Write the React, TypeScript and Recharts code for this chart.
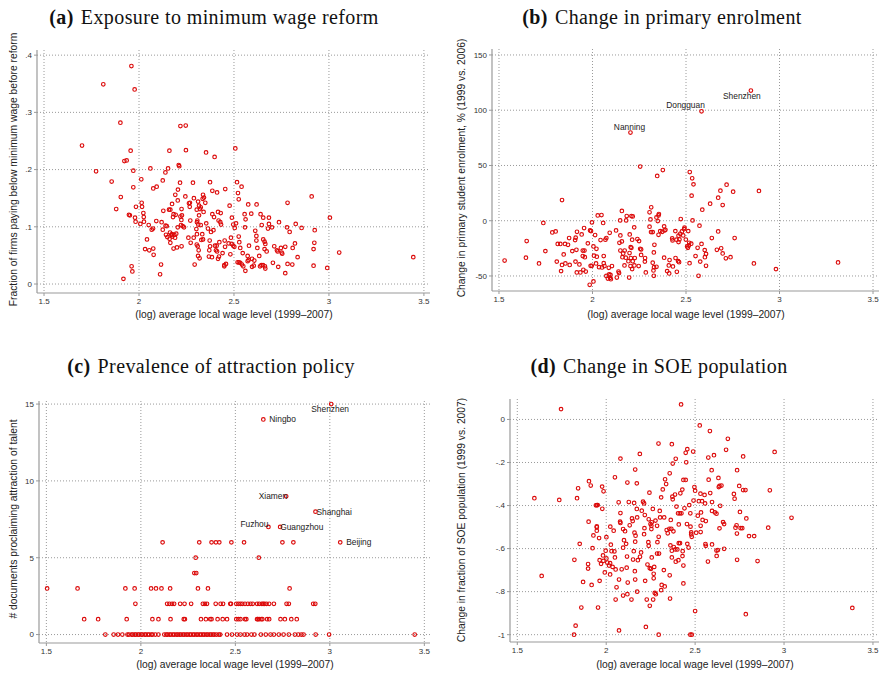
import React from 'react';
import { ScatterChart, Scatter, XAxis, YAxis, CartesianGrid } from 'recharts';

const RED = '#dc0a0a';
const GRID = '#9a9a9a';
const AXIS = '#9a9a9a';
const SANS = '"Liberation Sans", Arial, sans-serif';
const SERIF = '"Liberation Serif", "Times New Roman", serif';

const wageTicks = [1.5, 2, 2.5, 3, 3.5];
const exposureTicks = [0, 0.1, 0.2, 0.3, 0.4];
const enrolTicks = [-50, 0, 50, 100, 150];
const docTicks = [0, 5, 10, 15];
const soeTicks = [-1, -0.8, -0.6, -0.4, -0.2, 0];

// (a) log wage vs. share of firms below the new minimum wage
const exposurePoints: [number, number][] = [
  [1.70,0.242],[1.812,0.349],[1.96,0.381],[1.977,0.340],[1.902,0.282],[1.774,0.197],[1.856,0.179],[1.88,0.131],[1.904,0.152],[1.956,0.233],[1.923,0.215],[1.935,0.216],[1.97,0.198],[1.97,0.169],[1.947,0.121],[1.952,0.120],[1.984,0.135],[1.979,0.116],[1.982,0.109],[1.961,0.031],[1.965,0.022],[1.918,0.009],
  [2.012,0.183],[2.014,0.142],[2.016,0.135],[2.023,0.124],[2.025,0.117],[2.007,0.105],[2.026,0.109],[2.06,0.202],[2.075,0.167],[2.093,0.170],[2.051,0.103],[2.067,0.095],[2.074,0.097],[2.091,0.110],[2.042,0.078],[2.032,0.061],[2.054,0.059],[2.075,0.062],[2.077,0.051],[2.116,0.034],[2.111,0.017],
  [2.125,0.181],[2.139,0.195],[2.153,0.202],[2.16,0.233],[2.191,0.156],[2.128,0.128],[2.119,0.108],[2.125,0.095],[2.14,0.102],[2.146,0.101],[2.158,0.130],[2.165,0.130],[2.174,0.140],[2.182,0.122],[2.193,0.121],[2.179,0.117],[2.142,0.086],[2.149,0.082],[2.161,0.079],[2.163,0.090],[2.17,0.086],[2.174,0.087],[2.175,0.083],[2.186,0.086],[2.19,0.081],[2.165,0.072],[2.182,0.062],[2.2,0.064],[2.224,0.066],
  [2.204,0.146],[2.205,0.165],[2.209,0.208],[2.212,0.206],[2.216,0.177],[2.218,0.276],[2.246,0.277],[2.247,0.234],[2.244,0.153],[2.224,0.131],[2.218,0.118],[2.226,0.120],[2.223,0.112],[2.204,0.099],[2.23,0.101],[2.237,0.099],[2.221,0.103],[2.196,0.088],
  [2.263,0.141],[2.267,0.135],[2.268,0.142],[2.284,0.177],[2.289,0.15],[2.27,0.111],[2.26,0.081],[2.288,0.081],[2.272,0.072],[2.293,0.034],[2.304,0.130],[2.311,0.144],[2.316,0.137],[2.321,0.131],[2.325,0.134],[2.316,0.120],[2.307,0.111],[2.305,0.108],[2.312,0.104],[2.302,0.096],[2.305,0.087],[2.337,0.156],[2.342,0.151],[2.335,0.149],[2.349,0.142],[2.34,0.126],[2.325,0.103],[2.333,0.087],[2.337,0.078],[2.328,0.077],[2.304,0.069],[2.309,0.066],[2.314,0.059],[2.311,0.049],[2.319,0.045],
  [2.353,0.230],[2.374,0.178],[2.386,0.163],[2.398,0.222],[2.411,0.160],[2.354,0.106],[2.363,0.097],[2.379,0.091],[2.392,0.094],[2.386,0.122],[2.395,0.117],[2.372,0.076],[2.374,0.066],[2.37,0.059],[2.384,0.047],[2.368,0.048],[2.4,0.067],[2.409,0.067],[2.405,0.059],[2.411,0.057],[2.416,0.044],[2.421,0.048],[2.416,0.126],[2.43,0.124],[2.419,0.111],[2.428,0.108],[2.432,0.104],[2.423,0.073],[2.44,0.054],[2.454,0.166],[2.451,0.076],[2.453,0.065],[2.449,0.033],[2.458,0.035],[2.449,0.031],
  [2.477,0.137],[2.489,0.116],[2.496,0.104],[2.472,0.071],[2.484,0.081],[2.488,0.070],[2.496,0.067],[2.502,0.065],[2.481,0.052],[2.507,0.237],[2.516,0.178],[2.521,0.159],[2.525,0.148],[2.54,0.170],[2.511,0.106],[2.504,0.098],[2.525,0.083],[2.528,0.073],[2.533,0.063],[2.519,0.038],[2.526,0.038],[2.533,0.037],[2.542,0.034],[2.549,0.031],[2.56,0.023],[2.546,0.054],[2.556,0.122],[2.561,0.113],[2.558,0.099],[2.575,0.139],[2.591,0.123],[2.579,0.067],[2.572,0.049],[2.577,0.042],[2.572,0.040],[2.595,0.044],[2.607,0.041],[2.595,0.030],[2.604,0.032],
  [2.612,0.093],[2.618,0.084],[2.619,0.139],[2.618,0.076],[2.623,0.063],[2.633,0.049],[2.64,0.122],[2.646,0.103],[2.654,0.116],[2.637,0.031],[2.644,0.033],[2.653,0.033],[2.663,0.031],[2.665,0.027],[2.654,0.078],[2.661,0.074],[2.665,0.070],[2.661,0.061],[2.672,0.057],[2.684,0.116],[2.684,0.105],[2.679,0.097],[2.70,0.099],[2.712,0.066],[2.705,0.037],[2.737,0.108],[2.733,0.030],[2.726,0.059],[2.73,0.057],[2.747,0.063],[2.751,0.055],[2.754,0.053],[2.77,0.065],[2.77,0.019],[2.779,0.099],[2.782,0.142],[2.793,0.091],[2.782,0.035],[2.809,0.063],[2.821,0.071],[2.825,0.105],[2.807,0.034],[2.835,0.047],[2.856,0.098],[2.909,0.153],[2.925,0.094],[2.923,0.072],[2.919,0.061],[2.919,0.032],[2.991,0.028],[3.005,0.116],[3.054,0.055],[3.444,0.047],
];

// (b) log wage vs. % change in primary enrolment
const enrolPoints: [number, number][] = [
  [1.53,-36],[1.648,-18.4],[1.644,-33.5],[1.714,-38.7],[1.737,-2],[1.748,-27.5],[1.837,18.7],[1.785,-10.6],[1.803,-9.7],[1.814,-21],[1.828,-21],[1.809,-37],[1.832,-45.6],[1.837,-40],[1.855,-38.7],[1.846,-30.5],[1.853,-21],[1.869,-21.8],[1.875,-15.7],[1.878,-40],[1.892,-27.5],[1.907,-17.5],[1.91,-15.4],[1.917,-10],[1.914,-26.3],[1.909,-37],[1.916,-46.8],[1.93,-39.6],[1.935,-46.8],[1.942,-12.4],[1.955,-6.6],[1.948,-27],[1.957,-27],[1.948,-32],[1.959,-33],[1.951,-44.4],[1.964,-46],[1.975,-20.5],[1.987,-8.8],[1.992,-9.4],[1.997,-1.5],[1.99,-40.8],[1.996,-40.8],[2.005,-23.3],[2.008,-31.7],[2.014,-13],[2.021,-25.4],[2.023,-32.6],[2.019,-38.7],[2.005,-55],[1.985,-58],
  [2.028,4.8],[2.048,5.1],[2.057,-2],[2.043,-17.5],[2.035,-42],[2.051,-42.3],[2.06,-32],[2.06,-38.4],[2.064,-41],[2.069,-17.2],[2.074,-15.7],[2.074,-50],[2.082,-52.3],[2.087,-42.6],[2.089,-48.6],[2.094,-51.7],[2.098,-52.9],[2.096,-49],[2.104,-41],[2.092,-10.9],[2.126,-8.8],[2.13,-51.4],[2.139,-46],[2.142,-47.4],[2.148,0.3],[2.157,8.8],[2.149,-13.3],[2.157,-18.7],[2.144,-20],[2.149,-27],[2.16,-33],[2.172,-27],[2.164,-29.6],[2.171,-40.5],[2.178,-33.5],[2.183,4.2],[2.18,0.3],[2.192,-36.6],[2.196,-51.4],[2.198,-29.3],[2.205,-33.8],[2.208,4.2],[2.215,3.9],[2.199,-12.4],[2.204,-24],[2.208,-24.5],[2.212,-17.2],[2.203,-41],[2.212,-43.8],[2.215,-36.6],[2.223,-6],[2.226,-33.8],[2.224,-40.5],[2.24,-16.6],[2.249,-18.4],[2.255,-25.4],[2.26,-26],[2.247,-41],[2.26,-31],[2.281,-33.8],[2.28,-37],[2.285,-46.8],[2.255,49],
  [2.305,7.6],[2.314,12.1],[2.31,1.2],[2.305,-5.4],[2.313,-10.3],[2.322,-10.3],[2.331,-21.8],[2.328,-28.7],[2.322,-38],[2.329,-42],[2.326,-45],[2.328,-49.8],[2.342,-41.7],[2.346,40.5],[2.342,3],[2.349,-0.3],[2.353,4.8],[2.355,6],[2.353,-12.7],[2.362,-9.4],[2.376,45.9],[2.373,-10],[2.385,-8.8],[2.39,-8.2],[2.383,-5.1],[2.383,-33.5],[2.412,-35.6],[2.408,-40.5],[2.399,-45.6],[2.41,-47.7],[2.426,-16],[2.428,-17.8],[2.43,-41.4],[2.443,-9.4],[2.444,-33.8],[2.451,-46.2],[2.449,-17.2],[2.46,-13.6],[2.465,-16.9],[2.46,-19.3],[2.458,-36.6],[2.463,-37.5],[2.472,1.5],[2.469,-11.8],[2.478,-9.7],[2.485,-13.3],[2.49,-7.6],[2.492,-6.3],[2.499,-17],
  [2.51,-24.5],[2.506,-23.3],[2.515,-22.4],[2.517,-20],[2.512,-9.4],[2.52,44],[2.533,38.4],[2.54,32.9],[2.53,22.7],[2.535,0.3],[2.519,-38.4],[2.528,-20.8],[2.551,-32],[2.562,-24.5],[2.572,-4.5],[2.583,-21],[2.587,10],[2.576,-37],[2.567,-49.8],[2.6,-26.6],[2.601,-33],[2.607,-30],[2.607,-40.8],[2.629,15.4],[2.638,-15.7],[2.665,-26.3],[2.672,-9.7],[2.672,20.8],[2.684,27.2],[2.688,-25],[2.696,-29.6],[2.696,14.2],[2.717,32.6],[2.713,-34],[2.738,-33],[2.752,26.3],[2.76,-15.7],[2.863,-38.7],[2.89,26.9],[2.981,-43.8],[3.313,-37.8],
];
const enrolCities: [string, number, number][] = [
  ['Nanning', 2.203, 79.8],
  ['Dongguan', 2.583, 99],
  ['Shenzhen', 2.847, 117.8],
];

// (c) log wage vs. number of talent-attraction documents
const docPoints: [number, number][] = [
  [2.115,6],[2.309,6],[2.374,6],[2.397,6],[2.415,6],[2.479,6],[2.546,6],[2.749,6],[2.807,6],
  [2.29,5],[2.624,5],
  [2.283,4],[2.293,4],
  [1.504,3],[1.665,3],[1.918,3],[1.967,3],[2.054,3],[2.08,3],[2.109,3],[2.155,3],[2.302,3],[2.355,3],[2.787,3],
  [1.971,2],[2.139,2],[2.151,2],[2.165,2],[2.176,2],[2.208,2],[2.231,2],[2.266,2],[2.328,2],[2.339,2],[2.35,2],[2.396,2],[2.422,2],[2.435,2],[2.473,2],[2.477,2],[2.505,2],[2.516,2],[2.527,2],[2.537,2],[2.551,2],[2.566,2],[2.58,2],[2.592,2],[2.615,2],[2.626,2],[2.64,2],[2.647,2],[2.654,2],[2.665,2],[2.679,2],[2.704,2],[2.771,2],[2.783,2],[2.912,2],[2.923,2],
  [1.7,1],[1.774,1],[1.925,1],[2.061,1],[2.093,1],[2.157,1],[2.227,1],[2.233,1],[2.318,1],[2.344,1],[2.367,1],[2.374,1],[2.406,1],[2.433,1],[2.456,1],[2.505,1],[2.516,1],[2.527,1],[2.551,1],[2.558,1],[2.615,1],[2.619,1],[2.626,1],[2.637,1],[2.643,1],[2.668,1],[2.679,1],[2.739,1],[2.762,1],[2.796,1],[2.825,1],
  [1.812,0],[1.856,0],[1.879,0],[1.902,0],[1.929,0],[1.937,0],[1.951,0],[1.957,0],[1.968,0],[1.974,0],[1.985,0],[1.991,0],[2.003,0],[2.008,0],[2.021,0],[2.026,0],[2.037,0],[2.044,0],[2.056,0],[2.062,0],[2.076,0],[2.093,0],[2.124,0],[2.135,0],[2.141,0],[2.152,0],[2.159,0],[2.17,0],[2.177,0],[2.188,0],[2.195,0],[2.205,0],[2.212,0],[2.223,0],[2.23,0],[2.241,0],[2.248,0],[2.259,0],[2.265,0],[2.276,0],[2.283,0],[2.294,0],[2.301,0],[2.312,0],[2.319,0],[2.329,0],[2.336,0],[2.347,0],[2.354,0],[2.365,0],[2.372,0],[2.382,0],[2.389,0],[2.4,0],[2.413,0],[2.42,0],[2.456,0],[2.482,0],[2.509,0],[2.527,0],[2.548,0],[2.562,0],[2.585,0],[2.601,0],[2.635,0],[2.661,0],[2.686,0],[2.704,0],[2.73,0],[2.755,0],[2.783,0],[2.815,0],[2.833,0],[2.849,0],[2.861,0],[2.925,0],[2.996,0],[3.449,0],
];
const docCities: [string, number, number][] = [
  ['Shenzhen', 3.007, 15],
  ['Ningbo', 2.648, 14],
  ['Xiamen', 2.769, 9],
  ['Shanghai', 2.924, 8],
  ['Fuzhou', 2.675, 7],
  ['Guangzhou', 2.737, 7],
  ['Beijing', 3.055, 6],
];

// (d) log wage vs. change in SOE share
const soePoints: [number, number][] = [
  [1.596,-0.366],[1.637,-0.727],[1.746,0.048],[1.736,-0.374],[1.821,-0.652],[1.828,-0.958],[1.819,-1.0],[1.836,-0.366],[1.842,-0.32],[1.851,-0.578],[1.86,-0.874],[1.87,-0.755],[1.898,-0.672],[1.898,-0.693],[1.901,-0.475],[1.903,-0.287],[1.913,-0.307],[1.918,-0.769],[1.923,-0.598],[1.928,-0.539],[1.942,-0.399],[1.948,-0.398],[1.952,-0.398],[1.947,-0.501],[1.947,-0.497],[1.947,-0.517],[1.954,-0.874],[1.96,-0.551],[1.963,-0.75],[1.963,-0.654],[1.971,-0.671],[1.977,-0.312],[1.978,-0.415],[1.985,-0.334],[1.982,-0.632],[1.984,-0.657],[1.992,-0.711],[1.997,-0.61],
  [2.001,-0.547],[2.001,-0.646],[2.006,-0.665],[2.016,-0.679],[2.022,-0.668],[2.023,-0.498],[2.026,-0.582],[2.03,-0.612],[2.036,-0.685],[2.022,-0.72],[2.042,-0.517],[2.046,-0.613],[2.049,-0.269],[2.049,-0.641],[2.053,-0.697],[2.053,-0.837],[2.058,-0.78],[2.07,-0.385],[2.072,-0.744],[2.072,-0.98],[2.078,-0.475],[2.08,-0.481],[2.08,-0.435],[2.08,-0.182],[2.087,-0.696],[2.095,-0.818],[2.095,-0.509],[2.1,-0.561],[2.095,-0.596],[2.106,-0.519],[2.115,-0.689],[2.117,-0.637],[2.112,-0.578],[2.119,-0.293],[2.119,-0.812],[2.121,-0.758],[2.127,-0.384],[2.132,-0.492],[2.142,-0.837],[2.145,-0.46],[2.149,-0.472],[2.151,-0.651],[2.155,-0.612],[2.157,-0.388],[2.159,-0.526],[2.165,-0.54],[2.163,-0.568],[2.161,-0.705],[2.163,-0.744],[2.163,-0.233],[2.172,-0.297],[2.172,-0.416],[2.174,-0.455],[2.174,-0.8],[2.178,-0.654],[2.189,-0.16],[2.19,-0.638],[2.196,-0.618],
  [2.2,-0.424],[2.207,-0.382],[2.213,-0.39],[2.215,-0.505],[2.217,-0.444],[2.213,-0.533],[2.219,-0.75],[2.223,-0.964],[2.228,-0.837],[2.232,-0.674],[2.239,-0.587],[2.237,-0.57],[2.239,-0.464],[2.243,-0.34],[2.245,-0.866],[2.245,-0.691],[2.252,-0.694],[2.249,-0.486],[2.254,-0.494],[2.254,-0.509],[2.256,-0.641],[2.262,-0.416],[2.256,-0.478],[2.264,-0.837],[2.267,-0.738],[2.267,-0.717],[2.27,-0.685],[2.273,-0.806],[2.277,-0.47],[2.279,-0.812],[2.286,-0.623],[2.286,-0.494],[2.288,-0.57],[2.295,-0.545],[2.294,-0.112],[2.295,-1.0],[2.297,-0.623],
  [2.301,-0.425],[2.303,-0.455],[2.309,-0.362],[2.318,-0.325],[2.312,-0.769],[2.309,-0.793],[2.324,-0.7],[2.326,-0.455],[2.331,-0.278],[2.329,-0.776],[2.337,-0.3],[2.34,-0.514],[2.346,-0.529],[2.355,-0.508],[2.357,-0.25],[2.357,-0.724],[2.359,-0.832],[2.361,-0.585],[2.363,-0.467],[2.366,-0.508],[2.369,-0.115],[2.369,-0.61],[2.369,-0.641],[2.372,-0.359],[2.374,-0.371],[2.374,-0.205],[2.378,-0.52],[2.38,-0.593],[2.389,-0.604],[2.387,-0.349],[2.391,-0.183],[2.391,-0.661],[2.395,-0.405],
  [2.4,-0.604],[2.406,-0.654],[2.408,-0.575],[2.415,-0.575],[2.404,-0.436],[2.414,-0.436],[2.408,-0.488],[2.417,-0.343],[2.421,0.07],[2.423,-0.436],[2.428,-0.326],[2.434,-0.281],[2.447,-0.281],[2.43,-0.612],[2.429,-0.635],[2.434,-0.679],[2.434,-0.762],[2.44,-0.413],[2.447,-0.155],[2.45,-0.199],[2.456,-0.138],[2.454,-0.486],[2.456,-0.578],[2.463,-0.595],[2.467,-0.398],[2.473,-0.436],[2.474,-0.498],[2.478,-0.525],[2.478,-0.534],[2.481,-0.545],[2.473,-1.0],[2.481,-1.0],[2.489,-0.149],[2.491,-0.377],[2.496,-0.314],
  [2.5,-0.331],[2.5,-0.89],[2.506,-0.526],[2.515,-0.447],[2.521,-0.38],[2.526,-0.028],[2.53,-0.345],[2.531,-0.523],[2.531,-0.494],[2.533,-0.432],[2.539,-0.38],[2.542,-0.467],[2.553,-0.351],[2.556,-0.39],[2.558,-0.579],[2.56,-0.587],[2.56,-0.472],[2.572,-0.66],[2.574,-0.177],[2.576,-0.28],[2.583,-0.054],[2.585,-0.342],[2.593,-0.236],[2.595,-0.384],[2.595,-0.425],[2.595,-0.581],[2.606,-0.166],[2.611,-0.432],[2.62,-0.438],[2.62,-0.609],[2.621,-0.634],[2.628,-0.607],[2.631,-0.272],[2.633,-0.314],[2.637,-0.309],[2.641,-0.401],[2.637,-0.506],[2.648,-0.307],[2.657,-0.477],[2.663,-0.486],[2.663,-0.601],[2.674,-0.141],[2.684,-0.09],
  [2.718,-0.346],[2.722,-0.368],[2.727,-0.503],[2.733,-0.492],[2.735,-0.53],[2.736,-0.236],[2.736,-0.652],[2.748,-0.309],[2.752,-0.43],[2.756,-0.505],[2.765,-0.505],[2.77,-0.172],[2.77,-0.328],[2.783,-0.328],[2.785,-0.905],[2.788,-0.46],[2.803,-0.542],[2.832,-0.542],[2.851,-0.658],[2.911,-0.503],[2.92,-0.329],[2.947,-0.151],[3.042,-0.457],[3.384,-0.876],
];

type Place = { anchor: 'start' | 'middle' | 'end'; dx: number; dy: number };

const enrolLabelPlace: Record<string, Place> = {
  Nanning: { anchor: 'middle', dx: -1, dy: -6 },
  Dongguan: { anchor: 'middle', dx: -16, dy: -6 },
  Shenzhen: { anchor: 'middle', dx: -9, dy: 5.5 },
};
const docLabelPlace: Record<string, Place> = {
  Shenzhen: { anchor: 'middle', dx: -1, dy: 5 },
  Ningbo: { anchor: 'start', dx: 6, dy: 0 },
  Xiamen: { anchor: 'end', dx: 1, dy: 0 },
  Shanghai: { anchor: 'start', dx: 1, dy: 0 },
  Fuzhou: { anchor: 'end', dx: 0, dy: -2.5 },
  Guangzhou: { anchor: 'start', dx: 0, dy: 0 },
  Beijing: { anchor: 'start', dx: 6, dy: 0 },
};

const toRows = (pts: [number, number][], cities: [string, number, number][] = []) => [
  ...pts.map(([x, y]) => ({ x, y })),
  ...cities.map(([name, x, y]) => ({ name, x, y })),
];

const makeRing = (places: Record<string, Place>) => (props: any) => {
  const { cx, cy, payload } = props;
  if (cx == null || cy == null) return <g />;
  const p = payload && payload.name ? places[payload.name] : null;
  return (
    <g>
      <circle cx={cx} cy={cy} r={1.8} fill="none" stroke={RED} strokeWidth={1.15} />
      {p && (
        <text x={cx + p.dx} y={cy + p.dy} textAnchor={p.anchor} dominantBaseline="central"
          fontSize={8.4} fontFamily={SANS} fill="#222">{payload.name}</text>
      )}
    </g>
  );
};

const fmtDec = (v: number) => (v === 0 ? '0' : String(v).replace('0.', '.'));

interface PanelProps {
  left: number; top: number; width: number; height: number;
  margin: { top: number; right: number; bottom: number; left: number };
  xDomain: [number, number]; yDomain: [number, number];
  yTicks: number[]; yFmt?: (v: number) => string;
  rows: any[]; places?: Record<string, Place>;
}

const Panel: React.FC<PanelProps> = ({ left, top, width, height, margin, xDomain, yDomain, yTicks, yFmt, rows, places }) => (
  <div style={{ position: 'absolute', left, top }}>
    <ScatterChart width={width} height={height} margin={margin}>
      <CartesianGrid stroke={GRID} strokeDasharray="1 2" horizontalValues={yTicks} verticalValues={wageTicks} />
      <XAxis type="number" dataKey="x" domain={xDomain} ticks={wageTicks} interval={0}
        axisLine={{ stroke: AXIS, strokeWidth: 1.2 }} tickLine={{ stroke: AXIS }} tickSize={3} tickMargin={2} height={20}
        tick={{ fontSize: 8, fill: '#333', fontFamily: SANS }} />
      <YAxis type="number" dataKey="y" domain={yDomain} ticks={yTicks} interval={0}
        axisLine={{ stroke: AXIS, strokeWidth: 1.2 }} tickLine={{ stroke: AXIS }} tickSize={3} tickMargin={2} width={30}
        tickFormatter={yFmt} tick={{ fontSize: 8, fill: '#333', fontFamily: SANS }} />
      <Scatter data={rows} shape={makeRing(places || {})} isAnimationActive={false} />
    </ScatterChart>
  </div>
);

const App: React.FC = () => {
  return (
    <div style={{ position: 'absolute', left: 0, top: 0, width: 881, height: 675, background: '#fff', overflow: 'hidden' }}>
      <Panel left={0} top={0} width={440} height={330}
        margin={{ top: 50, right: 10, bottom: 17, left: 7 }}
        xDomain={[1.463, 3.532]} yDomain={[-0.0157, 0.409]} yTicks={exposureTicks} yFmt={fmtDec}
        rows={toRows(exposurePoints)} />
      <Panel left={440} top={0} width={441} height={330}
        margin={{ top: 49, right: 2, bottom: 19, left: 22 }}
        xDomain={[1.4626, 3.532]} yDomain={[-63.6, 155.4]} yTicks={enrolTicks}
        rows={toRows(enrolPoints, enrolCities)} places={enrolLabelPlace} />
      <Panel left={0} top={340} width={440} height={335}
        margin={{ top: 61, right: 10, bottom: 12, left: 9 }}
        xDomain={[1.461, 3.53]} yDomain={[-0.55, 15.2]} yTicks={docTicks}
        rows={toRows(docPoints, docCities)} places={docLabelPlace} />
      <Panel left={440} top={340} width={441} height={335}
        margin={{ top: 59, right: 2, bottom: 13, left: 40 }}
        xDomain={[1.459, 3.534]} yDomain={[-1.034, 0.095]} yTicks={soeTicks} yFmt={fmtDec}
        rows={toRows(soePoints)} />

      <svg width={881} height={675} style={{ position: 'absolute', left: 0, top: 0, pointerEvents: 'none' }}>
        <g fontFamily={SERIF} fontSize={20} fill="#111" textAnchor="middle" letterSpacing={0.4}>
          <text x={214} y={24}><tspan fontWeight="bold">(a)</tspan><tspan dx={7}>Exposure to minimum wage reform</tspan></text>
          <text x={662} y={24}><tspan fontWeight="bold">(b)</tspan><tspan dx={7}>Change in primary enrolment</tspan></text>
          <text x={211} y={373}><tspan fontWeight="bold">(c)</tspan><tspan dx={7}>Prevalence of attraction policy</tspan></text>
          <text x={659} y={373}><tspan fontWeight="bold">(d)</tspan><tspan dx={7}>Change in SOE population</tspan></text>
        </g>
        <g fontFamily={SANS} fontSize={10.3} fill="#222" textAnchor="middle" dominantBaseline="central">
          <text x={234} y={314}>(log) average local wage level (1999–2007)</text>
          <text x={686} y={314}>(log) average local wage level (1999–2007)</text>
          <text x={235} y={664}>(log) average local wage level (1999–2007)</text>
          <text x={695} y={664}>(log) average local wage level (1999–2007)</text>
          <text transform="translate(13,169.5) rotate(-90)">Fraction of firms paying below minimum wage before reform</text>
          <text transform="translate(461,168) rotate(-90)">Change in primary student enrolment, % (1999 vs. 2006)</text>
          <text transform="translate(13,519) rotate(-90)"># documents proclaiming attraction of talent</text>
          <text transform="translate(461,520) rotate(-90)">Change in fraction of SOE population (1999 vs. 2007)</text>
        </g>
      </svg>
    </div>
  );
};

export default App;
